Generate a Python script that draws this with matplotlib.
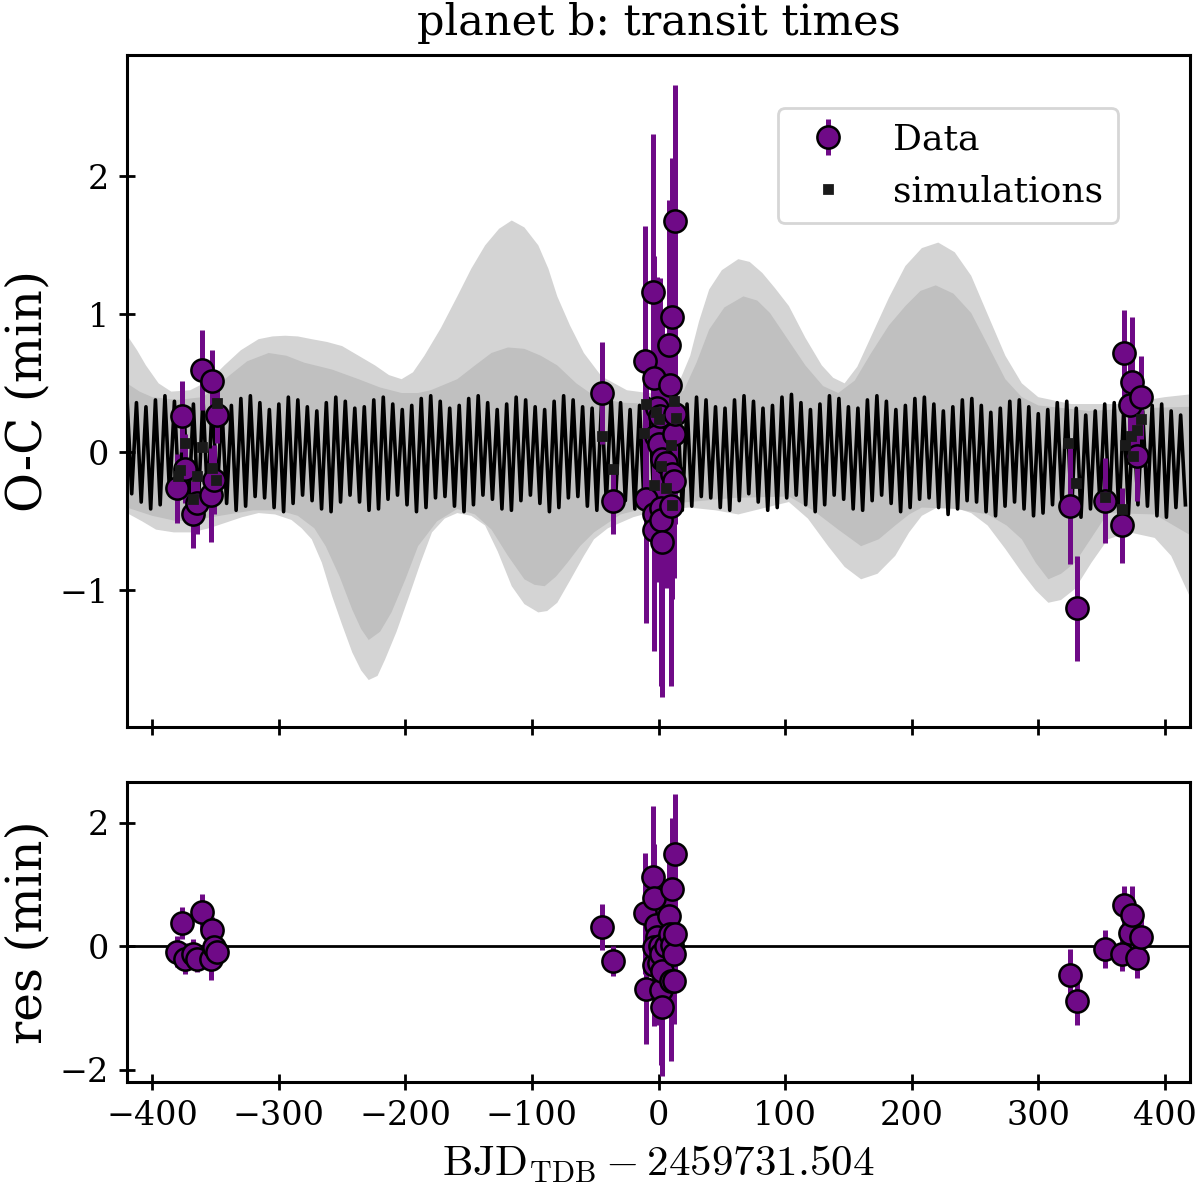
import numpy as np
import matplotlib
matplotlib.use("Agg")
import matplotlib.pyplot as plt

plt.rcParams['font.family'] = ['DejaVu Serif']
plt.rcParams['mathtext.fontset'] = 'cm'

# observed transits: epoch (days), O-C (min), error (min), residual (min)
t_obs = [-380.5, -376.6, -374.0, -367.9, -364.8, -360.8, -353.8, -352.5, -350.9, -348.5,
         -44.8, -35.9, -10.6, -10.1, -4.3, -3.5, -2.2, -0.9, -3.5, -3.5, 0.9, 0.4, 1.7,
         1.7, 3.0, 3.0, 6.1, 8.3, 8.8, 9.6, 10.9, 10.9, 12.2, 12.2, 13.0, 13.0,
         324.9, 330.9, 352.5, 366.1, 367.7, 372.2, 374.0, 378.2, 381.3]
oc_obs = [-0.26, 0.26, -0.12, -0.45, -0.37, 0.60, -0.31, 0.52, -0.20, 0.27,
          0.43, -0.35, 0.66, -0.34, 1.16, 0.54, 0.12, 0.32, -0.45, -0.56, 0.26, 0.06, -0.40,
          -0.49, -0.05, -0.65, -0.08, 0.78, 0.49, -0.39, 0.98, -0.16, 0.13, -0.21, 1.68, 0.28,
          -0.39, -1.13, -0.35, -0.53, 0.72, 0.34, 0.51, -0.03, 0.40]
err_obs = [0.25, 0.26, 0.25, 0.24, 0.22, 0.29, 0.34, 0.22, 0.25, 0.20,
           0.37, 0.24, 0.98, 0.90, 1.15, 0.88, 0.90, 0.95, 0.98, 0.88, 1.00, 1.00, 1.22,
           1.20, 1.00, 1.12, 0.90, 1.05, 0.95, 1.30, 1.15, 0.90, 0.80, 0.70, 0.98, 0.80,
           0.42, 0.38, 0.31, 0.27, 0.31, 0.30, 0.47, 0.32, 0.30]
res_obs = [-0.09, 0.38, -0.20, -0.12, -0.20, 0.55, -0.20, 0.26, -0.01, -0.09,
           0.31, -0.24, 0.53, -0.69, 1.12, 0.78, 0.34, 0.15, -0.31, -0.02, 0.00, -0.28, -0.71,
           -0.12, -0.40, -0.99, 0.00, 0.49, 0.20, -0.56, 0.92, 0.02, -0.12, -0.56, 1.49, 0.20,
           -0.46, -0.89, -0.05, -0.13, 0.66, 0.22, 0.51, -0.19, 0.15]

# simulated transit times at the observed epochs
t_sim = [-380.0, -378.0, -374.0, -367.5, -365.0, -361.0, -353.0, -350.0, -348.8,
         -44.8, -35.9, -11.4, -10.1, -2.2, 0.4, 1.7, -3.5, 5.7, 9.6, 10.9, 12.2, 14.0,
         323.5, 330.0, 352.5, 366.0, 368.7, 373.4, 374.8, 378.2, 381.3]
oc_sim = [-0.17, -0.13, 0.07, -0.34, -0.17, 0.04, -0.11, -0.20, 0.36,
          0.12, -0.12, 0.14, 0.35, 0.29, 0.24, -0.10, -0.24, -0.26, 0.05, -0.38, 0.37, 0.25,
          0.07, -0.22, -0.32, -0.41, 0.05, 0.12, -0.03, 0.16, 0.24]

# best-fit model, alternating transits (upper / lower swing of the chopping signal)
model_hi = [0.40, 0.36, 0.33, 0.38, 0.41, 0.37, 0.32, 0.35, 0.40, 0.38, 0.33, 0.34, 0.39, 0.41, 0.36, 0.31,
            0.35, 0.40, 0.38, 0.33, 0.30, 0.36, 0.40, 0.37, 0.32, 0.33, 0.38, 0.40, 0.35, 0.31, 0.34, 0.39,
            0.41, 0.37, 0.32, 0.34, 0.39, 0.41, 0.36, 0.31, 0.35, 0.40, 0.38, 0.33, 0.31, 0.37, 0.41, 0.38,
            0.33, 0.32, 0.37, 0.40, 0.36, 0.31, 0.34, 0.39, 0.41, 0.36, 0.32, 0.35, 0.40, 0.38, 0.33, 0.32,
            0.38, 0.41, 0.37, 0.32, 0.34, 0.40, 0.42, 0.36, 0.31, 0.35, 0.41, 0.39, 0.33, 0.32, 0.38, 0.41,
            0.37, 0.31, 0.34, 0.39, 0.40, 0.35, 0.30, 0.33, 0.38, 0.39, 0.34, 0.29, 0.32, 0.37, 0.38, 0.33,
            0.28, 0.31, 0.36, 0.37, 0.32, 0.27, 0.30, 0.35, 0.36, 0.31, 0.27, 0.30, 0.34, 0.35, 0.30, 0.27]
model_lo = [-0.30, -0.36, -0.41, -0.38, -0.31, -0.34, -0.40, -0.42, -0.35, -0.31, -0.37, -0.42, -0.39, -0.32, -0.33, -0.40,
            -0.43, -0.37, -0.31, -0.35, -0.41, -0.43, -0.36, -0.31, -0.36, -0.42, -0.41, -0.34, -0.31, -0.38, -0.43, -0.40,
            -0.33, -0.32, -0.39, -0.43, -0.38, -0.31, -0.34, -0.41, -0.42, -0.35, -0.31, -0.37, -0.43, -0.40, -0.33, -0.32,
            -0.39, -0.42, -0.36, -0.30, -0.35, -0.41, -0.42, -0.34, -0.30, -0.37, -0.42, -0.39, -0.32, -0.33, -0.40, -0.42,
            -0.35, -0.30, -0.36, -0.42, -0.40, -0.33, -0.31, -0.38, -0.43, -0.38, -0.31, -0.34, -0.41, -0.42, -0.35, -0.31,
            -0.37, -0.43, -0.40, -0.34, -0.33, -0.40, -0.45, -0.41, -0.35, -0.36, -0.43, -0.46, -0.39, -0.36, -0.41, -0.46,
            -0.44, -0.38, -0.38, -0.45, -0.47, -0.41, -0.37, -0.42, -0.47, -0.45, -0.38, -0.39, -0.46, -0.47, -0.40, -0.38]
period = 3.75
t_first = -420.0

# spread of the simulations: outer (light) and inner (dark) envelopes
outer_up_t = [-420, -412, -405, -395, -385, -370, -355, -343, -330, -316, -305, -295, -285, -274, -262, -250,
              -237, -224, -213, -203, -194, -185, -172, -159, -148, -137, -126, -116, -106, -95, -87, -80,
              -70, -59, -45, -25, 0, 15, 25, 32, 40, 50, 63, 72, 82, 92, 103, 116, 129, 138, 147, 157, 168,
              182, 195, 208, 221, 234, 247, 260, 274, 287, 300, 326, 366, 400, 420]
outer_up = [0.85, 0.74, 0.63, 0.50, 0.44, 0.45, 0.52, 0.63, 0.74, 0.82, 0.84, 0.845, 0.84, 0.82, 0.80, 0.77,
            0.70, 0.63, 0.56, 0.53, 0.58, 0.70, 0.90, 1.13, 1.33, 1.50, 1.62, 1.68, 1.63, 1.50, 1.33, 1.13,
            0.92, 0.72, 0.55, 0.45, 0.42, 0.48, 0.70, 0.95, 1.18, 1.32, 1.40, 1.38, 1.30, 1.19, 1.06, 0.83,
            0.63, 0.54, 0.50, 0.62, 0.84, 1.12, 1.35, 1.48, 1.52, 1.45, 1.28, 1.00, 0.70, 0.50, 0.40, 0.35,
            0.35, 0.40, 0.42]
outer_lo_t = [-420, -408, -397, -383, -369, -355, -342, -329, -316, -303, -290, -282, -274, -266, -258, -250,
              -242, -235, -229, -222, -216, -207, -197, -188, -179, -169, -159, -148, -137, -127, -116, -106,
              -95, -88, -80, -70, -59, -51, -40, -20, 0, 24, 45, 63, 85, 103, 118, 134, 147, 160, 173, 187,
              198, 208, 220, 234, 247, 260, 274, 287, 298, 308, 318, 329, 342, 355, 372, 392, 405, 420]
outer_lo = [-0.44, -0.50, -0.56, -0.58, -0.58, -0.55, -0.51, -0.47, -0.44, -0.45, -0.49, -0.55, -0.63, -0.80,
            -1.04, -1.25, -1.45, -1.58, -1.65, -1.62, -1.50, -1.30, -1.04, -0.80, -0.58, -0.48, -0.44, -0.46,
            -0.53, -0.72, -0.97, -1.10, -1.16, -1.15, -1.09, -0.93, -0.75, -0.63, -0.55, -0.47, -0.42, -0.40,
            -0.42, -0.45, -0.40, -0.36, -0.48, -0.68, -0.83, -0.92, -0.88, -0.75, -0.58, -0.46, -0.40, -0.40,
            -0.44, -0.53, -0.70, -0.87, -1.00, -1.09, -1.07, -0.99, -0.80, -0.63, -0.58, -0.62, -0.75, -1.05]
inner_up_t = [-420, -410, -400, -380, -360, -350, -340, -325, -308, -294, -280, -258, -237, -220, -203, -190,
              -180, -159, -145, -132, -119, -106, -93, -80, -65, -51, -30, 0, 12, 20, 30, 40, 52, 67, 78, 88,
              102, 116, 130, 142, 155, 168, 182, 195, 207, 219, 233, 247, 260, 274, 287, 300, 340, 380, 420]
inner_up = [0.50, 0.44, 0.40, 0.38, 0.40, 0.47, 0.55, 0.66, 0.72, 0.70, 0.65, 0.60, 0.53, 0.47, 0.43, 0.43,
            0.45, 0.53, 0.63, 0.72, 0.76, 0.75, 0.70, 0.63, 0.50, 0.41, 0.36, 0.35, 0.40, 0.45, 0.65, 0.89,
            1.05, 1.13, 1.10, 1.01, 0.82, 0.63, 0.48, 0.43, 0.52, 0.72, 0.92, 1.06, 1.17, 1.21, 1.15, 1.01,
            0.78, 0.53, 0.40, 0.34, 0.30, 0.32, 0.33]
inner_lo_t = [-420, -400, -380, -360, -340, -320, -300, -285, -272, -263, -252, -242, -235, -229, -220, -211,
              -200, -190, -175, -159, -145, -132, -119, -106, -98, -90, -81, -72, -62, -51, -30, 0, 24, 60, 103,
              122, 142, 160, 174, 187, 198, 208, 235, 260, 275, 287, 298, 308, 318, 329, 342, 355, 392, 420]
inner_lo = [-0.40, -0.46, -0.50, -0.48, -0.45, -0.42, -0.42, -0.46, -0.55, -0.68, -0.90, -1.14, -1.28, -1.36,
            -1.30, -1.16, -0.92, -0.68, -0.50, -0.41, -0.45, -0.56, -0.75, -0.92, -0.96, -0.97, -0.90, -0.80,
            -0.68, -0.58, -0.45, -0.38, -0.36, -0.33, -0.32, -0.42, -0.56, -0.68, -0.63, -0.53, -0.45, -0.40,
            -0.41, -0.45, -0.53, -0.63, -0.80, -0.92, -0.88, -0.80, -0.62, -0.44, -0.45, -0.60]

purple = '#6f0a87'

model_oc = np.empty(2 * len(model_hi))
model_oc[0::2] = model_hi
model_oc[1::2] = model_lo
model_t = t_first + period * np.arange(len(model_oc))

fig = plt.figure(figsize=(6, 5.995), dpi=200)
ax1 = fig.add_axes([0.1058, 0.3937, 0.886, 0.5605])
ax2 = fig.add_axes([0.1058, 0.0976, 0.886, 0.2502])

ax1.fill(np.concatenate([outer_up_t, outer_lo_t[::-1]]), np.concatenate([outer_up, outer_lo[::-1]]),
         color='#d4d4d4', lw=0, zorder=1)
ax1.fill(np.concatenate([inner_up_t, inner_lo_t[::-1]]), np.concatenate([inner_up, inner_lo[::-1]]),
         color='#c0c0c0', lw=0, zorder=1.5)
ax1.plot(model_t, model_oc, color='black', lw=1.3, zorder=2)

data = ax1.errorbar(t_obs, oc_obs, yerr=err_obs, fmt='o', color=purple, ecolor=purple, elinewidth=1.8,
                    ms=8, mec='black', mew=0.9, capsize=0, zorder=3)
sims, = ax1.plot(t_sim, oc_sim, 's', color='#1a1a1a', ms=2.8, lw=0, zorder=4)

ax1.set_xlim(-420, 420)
ax1.set_ylim(-1.99, 2.88)
ax1.set_yticks([-1, 0, 1, 2])
ax1.set_xticks([-400, -300, -200, -100, 0, 100, 200, 300, 400])
ax1.set_xticklabels([])
ax1.set_ylabel('O-C (min)', fontsize=17.5, labelpad=3)
ax1.set_title('planet b: transit times', fontsize=15.5, pad=7)
ax1.legend([data, sims], ['Data', 'simulations'], loc='upper right', bbox_to_anchor=(0.932, 0.921),
           borderaxespad=0, fontsize=13, fancybox=True, framealpha=0.8)

ax2.axhline(0, color='black', lw=1.0, zorder=1)
ax2.errorbar(t_obs, res_obs, yerr=err_obs, fmt='o', color=purple, ecolor=purple, elinewidth=1.8,
             ms=8, mec='black', mew=0.9, capsize=0, zorder=3)
ax2.set_xlim(-420, 420)
ax2.set_ylim(-2.2, 2.66)
ax2.set_yticks([-2, 0, 2])
ax2.set_xticks([-400, -300, -200, -100, 0, 100, 200, 300, 400])
ax2.set_ylabel('res (min)', fontsize=17.5, labelpad=3)
ax2.set_xlabel(r'$\mathrm{BJD}_{\mathrm{TDB}} - 2459731.504$', fontsize=15.5)

for ax in (ax1, ax2):
    ax.tick_params(direction='inout', length=6, width=1.0, labelsize=12)
    for s in ax.spines.values():
        s.set_linewidth(1.1)

fig.savefig('out.png', dpi=200)
